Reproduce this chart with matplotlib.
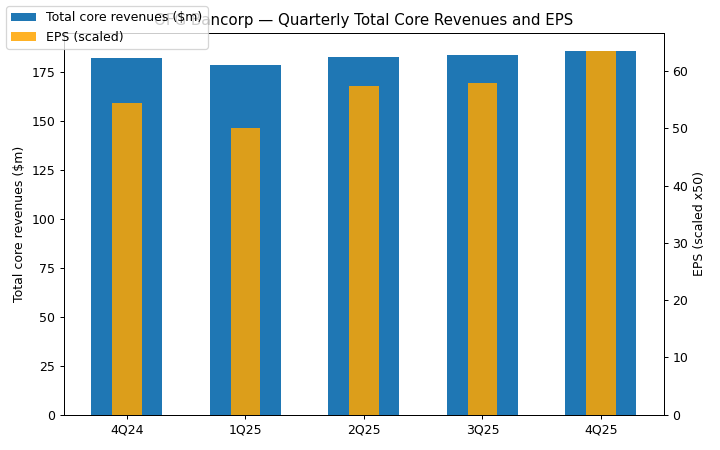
import numpy as np
import matplotlib
matplotlib.use("Agg")
import matplotlib.pyplot as plt

# Dados
trimestres = ["4Q24", "1Q25", "2Q25", "3Q25", "4Q25"]
receitas = [182.2, 178.4, 182.4, 183.9, 185.6]  # $m
eps = [1.09, 1.00, 1.15, 1.16, 1.27]
escala = 50
eps_escalado = [v * escala for v in eps]

x = np.arange(len(trimestres))

fig, ax1 = plt.subplots(figsize=(8, 5), dpi=90)
ax1.bar(x, receitas, width=0.6, color="#1f77b4", label="Total core revenues ($m)")
ax1.set_ylabel("Total core revenues ($m)")
ax1.set_xticks(x)
ax1.set_xticklabels(trimestres)

ax2 = ax1.twinx()
ax2.bar(x, eps_escalado, width=0.25, color="orange", alpha=0.85, label="EPS (scaled)")
ax2.set_ylabel("EPS (scaled x50)")

plt.title("OFG Bancorp — Quarterly Total Core Revenues and EPS")
fig.legend(loc="upper left")
fig.tight_layout()
plt.savefig("out.png", dpi=90)
